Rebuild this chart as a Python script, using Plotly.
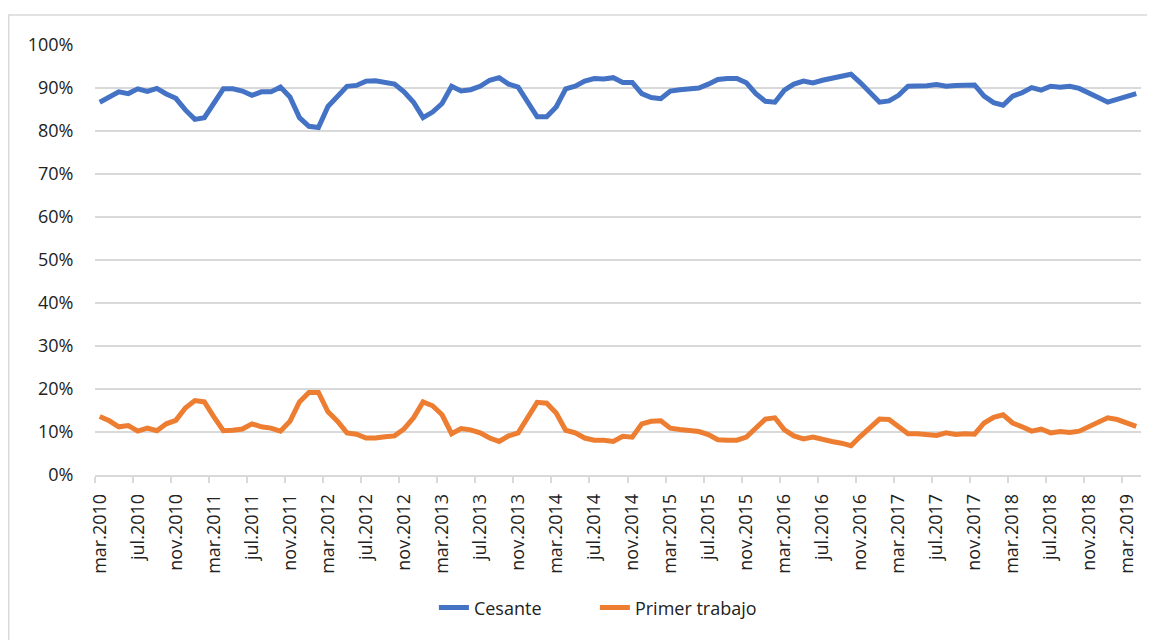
import plotly.graph_objects as go

months = ["ene", "feb", "mar", "abr", "may", "jun", "jul", "ago", "sep", "oct", "nov", "dic"]
start_year = 2010
start_month = 2  # index of "mar"
n_points = 110
periods = [f"{months[(start_month + i) % 12]}.{start_year + (start_month + i) // 12}" for i in range(n_points)]

cesante = [
    86.7, 87.8, 89.1, 88.7, 89.8, 89.2, 89.9, 88.6, 87.6, 84.9,
    82.7, 83.1, 86.6, 89.8, 89.8, 89.3, 88.3, 89.1, 89.1, 90.2,
    87.9, 83.1, 81.1, 80.8, 85.7, 87.9, 90.4, 90.6, 91.6, 91.7,
    91.2, 90.9, 89.1, 86.7, 83.1, 84.4, 86.4, 90.4, 89.3, 89.6,
    90.4, 91.8, 92.4, 90.9, 90.2, 86.7, 83.3, 83.3, 85.6, 89.8,
    90.4, 91.6, 92.2, 92.1, 92.4, 91.3, 91.3, 88.7, 87.8, 87.5,
    89.3, 89.6, 89.8, 90.0, 90.9, 92.0, 92.2, 92.2, 91.2, 88.7,
    86.9, 86.7, 89.5, 90.9, 91.6, 91.2, 91.8, 92.2, 92.6, 93.2,
    91.2, 89.1, 86.7, 87.0, 88.3, 90.4, 90.4, 90.5, 90.8, 90.4,
    90.6, 90.6, 90.7, 88.1, 86.6, 86.0, 88.1, 88.9, 90.1, 89.5,
    90.4, 90.2, 90.4, 89.9, 88.7, 87.8, 86.7, 87.3, 87.9, 88.7,
]

primer_trabajo = [
    13.6, 12.6, 11.2, 11.5, 10.2, 10.9, 10.3, 11.9, 12.7, 15.6,
    17.3, 17.0, 13.5, 10.3, 10.4, 10.7, 11.9, 11.2, 10.9, 10.2,
    12.5, 17.0, 19.2, 19.2, 14.7, 12.5, 9.8, 9.5, 8.6, 8.6,
    8.9, 9.1, 10.7, 13.3, 17.0, 16.1, 14.0, 9.6, 10.8, 10.5,
    9.8, 8.6, 7.8, 9.1, 9.8, 13.4, 16.9, 16.7, 14.4, 10.4,
    9.8, 8.6, 8.1, 8.1, 7.8, 9.0, 8.8, 11.9, 12.5, 12.6,
    10.9, 10.6, 10.4, 10.1, 9.4, 8.2, 8.1, 8.1, 8.8, 10.9,
    13.0, 13.3, 10.5, 9.1, 8.4, 8.8, 8.2, 7.8, 7.4, 6.8,
    9.0, 10.9, 13.0, 12.9, 11.3, 9.6, 9.6, 9.5, 9.2, 9.8,
    9.4, 9.6, 9.5, 12.1, 13.4, 14.0, 12.1, 11.2, 10.2, 10.7,
    9.8, 10.1, 9.9, 10.2, 11.3, 12.2, 13.3, 12.9, 12.2, 11.3,
]

y_ticks = list(range(0, 101, 10))
y_labels = [f"{v}%" for v in y_ticks]
x_index = list(range(n_points))
label_step = 4

FONT = "Open Sans"
TEXT = "#222222"
GRID = "#d9d9d9"

fig = go.Figure()
fig.add_trace(go.Scatter(
    x=x_index, y=cesante, mode="lines", name="Cesante",
    line=dict(color="#4472C4", width=5),
    customdata=periods, hovertemplate="%{customdata}: %{y:.1f}%<extra></extra>",
))
fig.add_trace(go.Scatter(
    x=x_index, y=primer_trabajo, mode="lines", name="Primer trabajo",
    line=dict(color="#ED7D31", width=5),
    customdata=periods, hovertemplate="%{customdata}: %{y:.1f}%<extra></extra>",
))

fig.update_layout(
    width=1147, height=632,
    margin=dict(l=87, r=14, t=37, b=165),
    paper_bgcolor="white", plot_bgcolor="white",
    font=dict(family=FONT, size=18, color=TEXT),
    showlegend=True,
    legend=dict(orientation="h", x=0.324, xanchor="left", y=-0.309, yanchor="middle",
                entrywidth=116, entrywidthmode="pixels",
                font=dict(family=FONT, size=18, color=TEXT), bgcolor="rgba(0,0,0,0)"),
    xaxis=dict(
        range=[-0.5, n_points - 0.5],
        tickmode="array",
        tickvals=x_index[::label_step],
        ticktext=periods[::label_step],
        tickangle=-90,
        ticks="outside", ticklen=10, tickcolor="rgba(0,0,0,0)",
        showgrid=False, zeroline=False,
        showline=True, linecolor=GRID, linewidth=1.5,
        tickfont=dict(family=FONT, size=18, color=TEXT),
        minor=dict(tickmode="linear", tick0=-0.5, dtick=label_step, ticks="outside",
                   ticklen=6, tickcolor=GRID, tickwidth=1.5, showgrid=False),
    ),
    yaxis=dict(
        range=[0, 100],
        tickmode="array", tickvals=y_ticks, ticktext=y_labels,
        ticks="outside", ticklen=17, tickcolor="rgba(0,0,0,0)",
        showgrid=True, gridcolor=GRID, gridwidth=1.5,
        zeroline=False, showline=False,
        tickfont=dict(family=FONT, size=18, color=TEXT),
    ),
    shapes=[dict(type="rect", xref="paper", yref="paper",
                 x0=-0.0825, x1=1.05, y0=-0.5, y1=1.0698,
                 line=dict(color=GRID, width=1.5), fillcolor="rgba(0,0,0,0)", layer="below")],
)

fig.write_html("out.html")
